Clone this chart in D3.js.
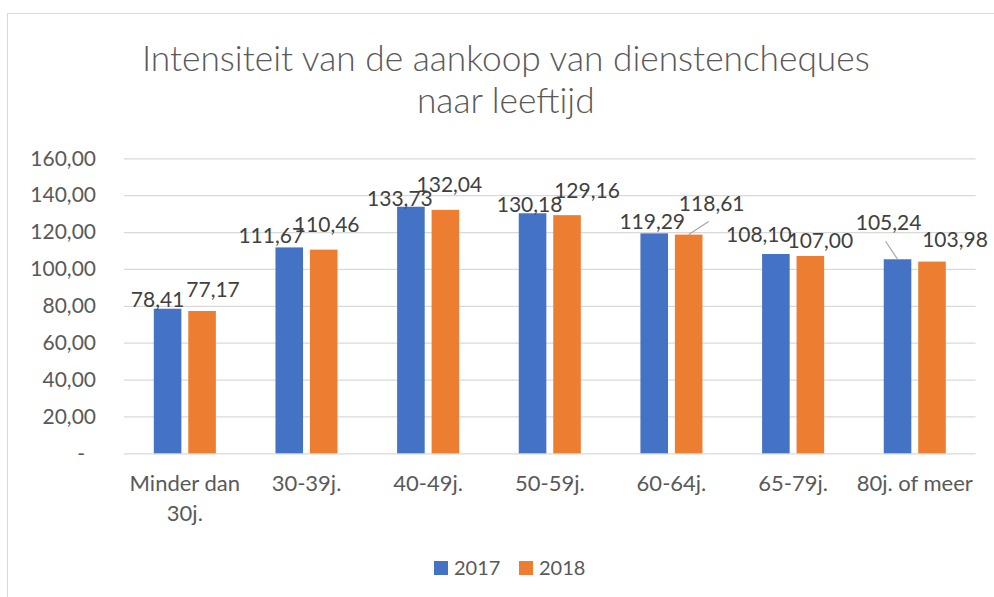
<!DOCTYPE html>
<html>
<head>
<meta charset="utf-8">
<script src="https://cdn.jsdelivr.net/npm/d3@7"></script>
<style>
  body { margin: 0; background: #fff; }
  text { font-family: Lato, "Open Sans", sans-serif; }
</style>
</head>
<body>
<svg width="994" height="597"></svg>
<script>
var categories = ["Minder dan 30j.", "30-39j.", "40-49j.", "50-59j.", "60-64j.", "65-79j.", "80j. of meer"]
var seriesNames = ["2017", "2018"]
var values2017 = [78.41, 111.67, 133.73, 130.18, 119.29, 108.10, 105.24]
var values2018 = [77.17, 110.46, 132.04, 129.16, 118.61, 107.00, 103.98]
var yTicks = [0, 20, 40, 60, 80, 100, 120, 140, 160]
var titleLines = ["Intensiteit van de aankoop van dienstencheques", "naar leeftijd"]

var colors = {"2017": "#4472C4", "2018": "#ED7D31"}

// hand-placed data labels (as in the original), offset from the top centre of each bar
var nudge2017 = [[-10, -2], [-18, -4], [-11, -1], [-3, -1], [-2, -4], [-17, -12], [-9, -29]]
var nudge2018 = [[11, -14], [3, -18], [4, -18], [20, -17], [23, -24], [10, -8], [23, -15]]
var leader2017 = [0, 0, 0, 0, 0, 0, 1]
var leader2018 = [0, 0, 0, 0, 1, 0, 0]

var rows = categories.map(function(c, i) {
  return {
    cat: c,
    bars: [
      {s: "2017", v: values2017[i], nudge: nudge2017[i], leader: leader2017[i]},
      {s: "2018", v: values2018[i], nudge: nudge2018[i], leader: leader2018[i]}
    ]
  }
})

var nl = d3.formatLocale({decimal: ",", thousands: ".", grouping: [3], currency: ["€", ""]})
var fmt = nl.format(",.2f")

var svg = d3.select("svg")
var plotLeft = 124, plotRight = 975.6, plotTop = 158.3, plotBottom = 453.3

// chart frame
svg.append("rect")
  .attr("x", 7.5).attr("y", 13.5)
  .attr("width", 1000).attr("height", 600)
  .attr("fill", "none").attr("stroke", "#d9d9d9").attr("stroke-width", 1)

var x0 = d3.scaleBand()
  .domain(categories)
  .range([plotLeft, plotRight])
  .paddingInner(0.49)
  .paddingOuter(0.245)

var x1 = d3.scaleBand()
  .domain(seriesNames)
  .range([0, x0.bandwidth()])
  .paddingInner(0.2)

var y = d3.scaleLinear()
  .domain([0, 160])
  .range([plotBottom, plotTop])

// gridlines
svg.append("g")
  .attr("transform", "translate(" + plotLeft + ",0)")
  .call(d3.axisLeft(y).tickValues(yTicks).tickSize(-(plotRight - plotLeft)).tickFormat(""))
  .call(function(g) { g.select(".domain").remove() })
  .selectAll("line")
  .attr("stroke", "#d9d9d9")
  .attr("stroke-width", 1.2)

// y labels
var yAxis = svg.append("g")
  .attr("transform", "translate(" + plotLeft + ",0)")
  .call(d3.axisLeft(y).tickValues(yTicks).tickSize(0).tickPadding(28)
    .tickFormat(function(d) { return d === 0 ? "-" : fmt(d) }))
yAxis.select(".domain").remove()
yAxis.selectAll("text")
  .attr("fill", "#595959")
  .style("font-family", "Lato, sans-serif")
  .style("font-size", "21px")
  .attr("dx", function(d) { return d === 0 ? -11 : 0 })

// bars
var groups = svg.append("g")
  .selectAll("g.group")
  .data(rows)
  .enter()
  .append("g")
  .classed("group", true)
  .attr("transform", function(d) { return "translate(" + x0(d.cat) + ",0)" })

groups.selectAll("rect")
  .data(function(d) { return d.bars })
  .enter()
  .append("rect")
  .attr("x", function(d) { return x1(d.s) })
  .attr("y", function(d) { return y(d.v) })
  .attr("width", x1.bandwidth())
  .attr("height", function(d) { return y(0) - y(d.v) })
  .attr("fill", function(d) { return colors[d.s] })

// leader lines
groups.selectAll("line.leader")
  .data(function(d) { return d.bars.filter(function(b) { return b.leader }) })
  .enter()
  .append("line")
  .classed("leader", true)
  .attr("x1", function(d) { return x1(d.s) + x1.bandwidth() / 2 })
  .attr("y1", function(d) { return y(d.v) })
  .attr("x2", function(d) { return x1(d.s) + x1.bandwidth() / 2 + d.nudge[0] - 3 })
  .attr("y2", function(d) { return y(d.v) + d.nudge[1] + 11 })
  .attr("stroke", "#a6a6a6")
  .attr("stroke-width", 1.2)

// data labels
groups.selectAll("text.label")
  .data(function(d) { return d.bars })
  .enter()
  .append("text")
  .classed("label", true)
  .attr("x", function(d) { return x1(d.s) + x1.bandwidth() / 2 + d.nudge[0] })
  .attr("y", function(d) { return y(d.v) + d.nudge[1] })
  .attr("text-anchor", "middle")
  .attr("fill", "#404040")
  .style("font-size", "21px")
  .text(function(d) { return fmt(d.v) })

// x labels
var xLabels = svg.append("g")
  .selectAll("text")
  .data(categories)
  .enter()
  .append("text")
  .attr("x", function(d) { return x0(d) + x0.bandwidth() / 2 })
  .attr("y", plotBottom + 38)
  .attr("text-anchor", "middle")
  .attr("fill", "#595959")
  .style("font-size", "22px")
  .text(function(d) { return d })

xLabels.each(function(d) {
  var t = d3.select(this)
  var cx = +t.attr("x")
  var words = d.split(" ")
  var lines = [], line = []
  t.text(null)
  var probe = t.append("tspan")
  words.forEach(function(w) {
    line.push(w)
    probe.text(line.join(" "))
    if (probe.node().getComputedTextLength() > x0.step() && line.length > 1) {
      line.pop()
      lines.push(line.join(" "))
      line = [w]
    }
  })
  lines.push(line.join(" "))
  probe.remove()
  lines.forEach(function(l, i) {
    t.append("tspan").attr("x", cx).attr("dy", i ? 30 : 0).text(l)
  })
})

// title
svg.append("g")
  .selectAll("text")
  .data(titleLines)
  .enter()
  .append("text")
  .attr("x", 505.8)
  .attr("y", function(d, i) { return 70.7 + i * 42.6 })
  .attr("text-anchor", "middle")
  .attr("fill", "#595959")
  .style("font-size", "35.3px")
  .style("font-weight", 300)
  .text(function(d) { return d })

// legend
var legend = svg.append("g")
  .selectAll("g")
  .data(seriesNames)
  .enter()
  .append("g")
  .attr("transform", function(d, i) { return "translate(" + (434 + i * 85) + ",561)" })

legend.append("rect")
  .attr("width", 14).attr("height", 14)
  .attr("fill", function(d) { return colors[d] })

legend.append("text")
  .attr("x", 20).attr("y", 14)
  .attr("fill", "#595959")
  .style("font-size", "20px")
  .text(function(d) { return d })
</script>
</body>
</html>
